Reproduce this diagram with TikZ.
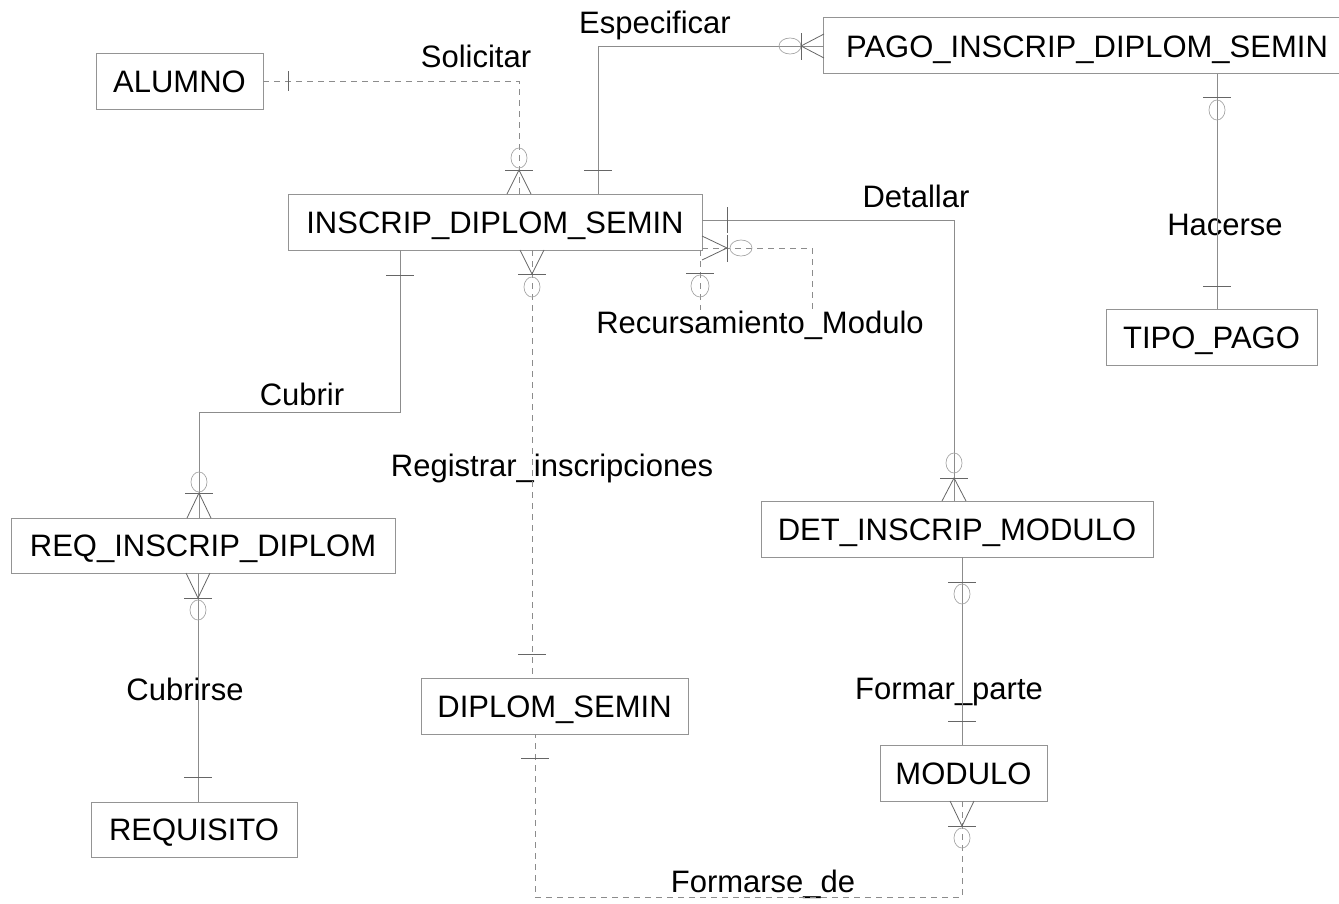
\documentclass[tikz,border=0pt]{standalone}
\usepackage{fontspec}
\setmainfont{Liberation Sans}
\begin{document}
\begin{tikzpicture}[x=1bp,y=-1bp,
  ent/.style={draw=black!42, line width=0.8bp, minimum height=56bp, inner sep=0pt,
    text height=22bp, text depth=0bp, font=\fontsize{31bp}{36bp}\selectfont, text=black},
  lbl/.style={inner sep=0pt, anchor=base, font=\fontsize{31bp}{36bp}\selectfont, text=black},
  rel/.style={draw=black!45, line width=0.8bp},
  reld/.style={rel, dash pattern=on 6bp off 5bp},
  mk/.style={draw=black!60, line width=0.8bp},
  ring/.style={draw=black!35, line width=0.7bp}]
\useasboundingbox (0,0) rectangle (1339,903);

% ---------- entities ----------
\node[ent, minimum width=167bp] (alumno)    at (179.5,81)  {ALUMNO};
\node[ent, draw=none, minimum width=526bp] (pago) at (1087,46) {PAGO\_INSCRIP\_DIPLOM\_SEMIN};
\draw[draw=black!42, line width=0.8bp] (pago.north west) rectangle ++(600,56);
\node[ent, minimum width=414bp] (ins)       at (495,222)   {INSCRIP\_DIPLOM\_SEMIN};
\node[ent, minimum width=211bp] (tipo)      at (1211.5,337){TIPO\_PAGO};
\node[ent, minimum width=392bp] (det)       at (957,529)   {DET\_INSCRIP\_MODULO};
\node[ent, minimum width=384bp, minimum height=55bp] (req) at (203,545.5) {REQ\_INSCRIP\_DIPLOM};
\node[ent, minimum width=267bp] (dip)       at (554.5,706) {DIPLOM\_SEMIN};
\node[ent, minimum width=167bp] (modulo)    at (963.5,773) {MODULO};
\node[ent, minimum width=206bp, minimum height=55bp] (requisito) at (194,829.5) {REQUISITO};

% ---------- relationship labels ----------
\node[lbl] (lsol) at (476,67)  {Solicitar};
\node[lbl] (lesp) at (655,33)  {Especificar};
\node[lbl] (ldet) at (916,207) {Detallar};
\node[lbl] (lhac) at (1225,235){Hacerse};
\node[lbl] (lcub) at (302,405) {Cubrir};
\node[lbl] (lreg) at (552,476) {Registrar\_inscripciones};
\node[lbl] (lcus) at (185,700) {Cubrirse};
\node[lbl] (lfor) at (949,699) {Formar\_parte};
\node[lbl] (lfde) at (763,892) {Formarse\_de};
\node[lbl] (lrec) at (760,333) {Recursamiento\_Modulo};

% ---------- bend points ----------
\coordinate (sol1) at (519,81);
\coordinate (esp1) at (598,46);
\coordinate (det1) at (954,220);
\coordinate (cub1) at (400,412);
\coordinate (cub2) at (199,412);
\coordinate (fde1) at (962,897);
\coordinate (fde2) at (535,897);
\coordinate (rec1) at (812,248);

% ---------- connectors ----------
% Solicitar
\draw[reld] (alumno.east) -- (sol1) -- (sol1 |- ins.north);
\draw[mk] (288,71) -- (288,91);
\draw[ring] (519,158) ellipse [x radius=8bp, y radius=10bp];
\draw[mk] (505,170) -- (533,170);
\draw[mk] (507,194) -- (519,170) -- (531,194);
% Especificar
\draw[rel] (esp1 |- ins.north) -- (esp1) -- (esp1 -| pago.west);
\draw[mk] (584,170) -- (612,170);
\draw[ring] (790,46) ellipse [x radius=11bp, y radius=8bp];
\draw[mk] (801,33) -- (801,60);
\draw[mk] (824,34) -- (801,46) -- (824,58);
% Hacerse
\draw[rel] (pago.south -| tipo.north) ++(5.5,0) coordinate (hac0) -- (hac0 |- tipo.north);
\draw[mk] (1203,97) -- (1231,97);
\draw[ring] (1217,110) ellipse [x radius=8bp, y radius=10bp];
\draw[mk] (1203,286) -- (1231,286);
% Detallar
\draw[rel] (ins.east |- det1) -- (det1) -- (det1 |- det.north);
\draw[mk] (727,207) -- (727,233);
\draw[ring] (954,463) ellipse [x radius=8bp, y radius=10bp];
\draw[mk] (940,478) -- (968,478);
\draw[mk] (942,501) -- (954,478) -- (966,501);
% Recursamiento_Modulo (self relationship)
\draw[reld] (700,250) -- (700,310);
\draw[mk] (686,273) -- (714,273);
\draw[ring] (700,286) ellipse [x radius=9bp, y radius=11bp];
\draw[reld] (ins.east |- rec1) -- (rec1) -- (rec1 |- lrec.north);
\draw[mk] (702,236) -- (727,248) -- (702,260);
\draw[mk] (727,235) -- (727,262);
\draw[ring] (741,248) ellipse [x radius=11bp, y radius=8bp];
% Cubrir
\draw[rel] (cub1 |- ins.south) -- (cub1) -- (cub2) -- (cub2 |- req.north);
\draw[mk] (386,275) -- (414,275);
\draw[ring] (199,482) ellipse [x radius=8bp, y radius=10bp];
\draw[mk] (185,493) -- (213,493);
\draw[mk] (187,518) -- (199,493) -- (211,518);
% Registrar_inscripciones
\draw[reld] (532,250) -- (532,678);
\draw[mk] (520,250) -- (532,274) -- (544,250);
\draw[mk] (518,274) -- (546,274);
\draw[ring] (532,287) ellipse [x radius=8bp, y radius=10bp];
\draw[mk] (518,654) -- (546,654);
% Cubrirse
\draw[rel] (198,573) -- (198,802);
\draw[mk] (186,573) -- (198,598) -- (210,573);
\draw[mk] (184,598) -- (212,598);
\draw[ring] (198,610) ellipse [x radius=8bp, y radius=10bp];
\draw[mk] (184,777) -- (212,777);
% Formar_parte
\draw[rel] (962,557) -- (962,745);
\draw[mk] (948,582) -- (976,582);
\draw[ring] (962,594) ellipse [x radius=8bp, y radius=10bp];
\draw[mk] (948,721) -- (976,721);
% Formarse_de
\draw[reld] (fde1 |- modulo.south) -- (fde1) -- (fde2) -- (fde2 |- dip.south);
\draw[mk] (950,801) -- (962,826) -- (974,801);
\draw[mk] (948,826) -- (976,826);
\draw[ring] (962,838) ellipse [x radius=8bp, y radius=10bp];
\draw[mk] (521,758) -- (549,758);
\end{tikzpicture}
\end{document}
